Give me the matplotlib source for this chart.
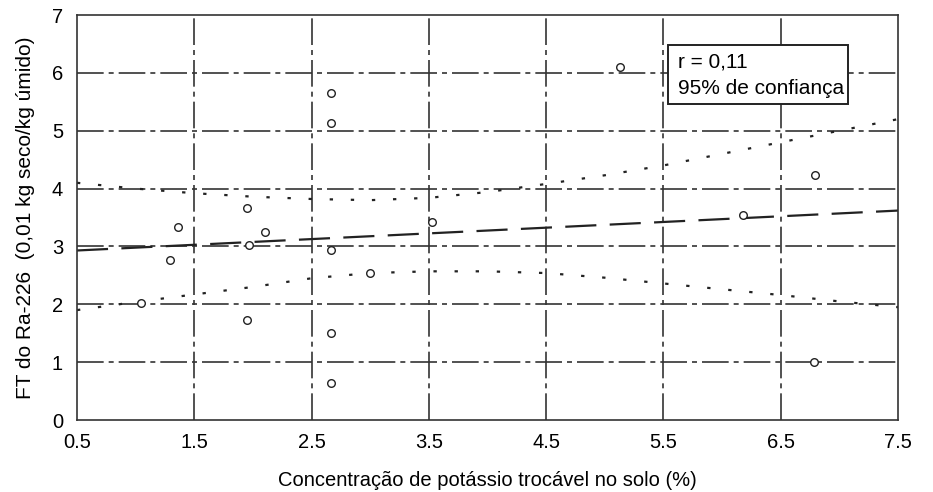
import numpy as np
import matplotlib
matplotlib.use("Agg")
import matplotlib.pyplot as plt
from matplotlib.patches import Rectangle

plt.rcParams['font.family'] = ['Liberation Sans', 'DejaVu Sans']

# potassium (%) vs transfer factor of Ra-226
potassio = [1.05, 1.29, 1.36, 1.95, 1.97, 1.95, 2.10, 2.67, 2.67, 2.67, 2.67, 2.67,
            3.00, 3.53, 5.13, 6.18, 6.79, 6.78]
ft_ra226 = [2.02, 2.76, 3.33, 3.66, 3.02, 1.73, 3.25, 5.65, 5.13, 2.94, 1.50, 0.64,
            2.54, 3.42, 6.10, 3.54, 4.23, 1.00]

# fitted line (end points)
reta_x = [0.5, 7.5]
reta_y = [2.93, 3.62]

# 95% confidence band
banda_x = [0.5, 1.0, 1.5, 2.0, 2.5, 3.0, 3.5, 4.0, 4.5, 5.0, 5.5, 6.0, 6.5, 7.0, 7.5]
banda_sup = [4.10, 4.00, 3.92, 3.86, 3.82, 3.80, 3.84, 3.94, 4.08, 4.23, 4.40, 4.60, 4.80, 5.00, 5.20]
banda_inf = [1.90, 2.04, 2.17, 2.30, 2.45, 2.54, 2.57, 2.57, 2.54, 2.46, 2.36, 2.26, 2.16, 2.05, 1.95]

x_ticks = [0.5, 1.5, 2.5, 3.5, 4.5, 5.5, 6.5, 7.5]
y_ticks = [0, 1, 2, 3, 4, 5, 6, 7]

fig = plt.figure(figsize=(9.33, 4.92), dpi=100)
ax = fig.add_axes([0.0825, 0.1463, 0.88, 0.8232])
ax.set_xlim(0.5, 7.5)
ax.set_ylim(0, 7)

grid_style = dict(color='#333333', lw=1.2, ls=(0, (16, 3, 3, 3)), zorder=1)
for yv in y_ticks[1:-1]:
    ax.axhline(yv, **grid_style)
for xv in x_ticks[1:-1]:
    ax.axvline(xv, **grid_style)

ax.plot(reta_x, reta_y, color='#222222', lw=1.6, ls=(0, (14, 6)), zorder=2)
ax.plot(banda_x, banda_sup, color='#222222', lw=1.6, ls=(0, (1.5, 8)), zorder=2)
ax.plot(banda_x, banda_inf, color='#222222', lw=1.6, ls=(0, (1.5, 8)), zorder=2)

ax.scatter(potassio, ft_ra226, s=30, facecolors='white', edgecolors='#222222',
           linewidths=1.0, zorder=3)

ax.add_patch(Rectangle((5.54, 5.47), 1.53, 1.01, facecolor='white',
                       edgecolor='#222222', lw=1.4, zorder=4))
ax.text(5.62, 6.18, 'r = 0,11', fontsize=15, va='center', ha='left', zorder=5)
ax.text(5.62, 5.73, '95% de confiança', fontsize=15, va='center', ha='left', zorder=5)

for s in ax.spines.values():
    s.set_color('#333333')
    s.set_linewidth(1.2)

ax.set_xticks(x_ticks)
ax.set_xticklabels(['0.5', '1.5', '2.5', '3.5', '4.5', '5.5', '6.5', '7.5'])
ax.set_yticks(y_ticks)
ax.tick_params(length=0, labelsize=14.5)
ax.tick_params(axis='x', pad=9)
ax.tick_params(axis='y', pad=10)
ax.set_xlabel('Concentração de potássio trocável no solo (%)', fontsize=14.5, labelpad=14)
ax.set_ylabel('FT do Ra-226  (0,01 kg seco/kg úmido)', fontsize=15, labelpad=12)

fig.savefig('out.png', dpi=100)
